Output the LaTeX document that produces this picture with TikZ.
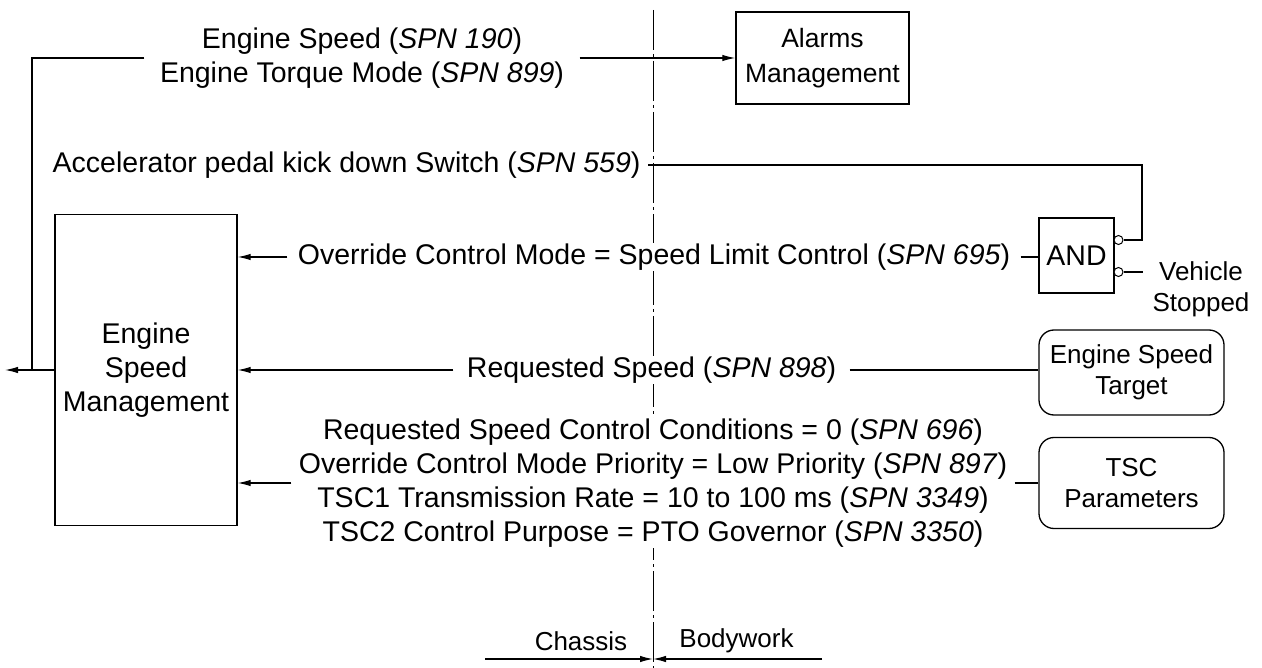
\documentclass[tikz,border=0pt]{standalone}
\usepackage{fontspec}
\setmainfont{Liberation Sans}
\usetikzlibrary{arrows.meta}
\newcommand\fntA{\fontsize{28.5}{34}\selectfont}
\newcommand\fntB{\fontsize{26}{31}\selectfont}
\begin{document}
\begin{tikzpicture}[x=1pt,y=-1pt,line width=1.2pt,
  lbl/.style={fill=white,align=center,inner xsep=12pt,inner ysep=1pt,font=\fntA},
  blk/.style={draw,align=center,inner sep=0pt,line width=1.3pt},
  rblk/.style={blk,rounded corners=15pt,font=\fntB},
  arr/.style={-{Latex[length=13pt,width=6.5pt]}},
  axisline/.style={line width=1pt,dash pattern=on 40pt off 4pt on 3pt off 4pt},
  bubble/.style={circle,draw,fill=white,inner sep=0pt,minimum size=9pt,line width=1pt}]
\useasboundingbox (0,0) rectangle (1262,668);

% chassis / bodywork boundary
\coordinate (axT) at (653,10);
\coordinate (axB) at (653,668);
\draw[axisline] (axT) -- (axB);

% blocks
\node[blk,font=\fntA,minimum width=182pt,minimum height=311pt] (esm) at (146,370)
  {Engine\\Speed\\Management};
\node[blk,font=\fontsize{26.5}{35}\selectfont,minimum width=173pt,minimum height=92pt] (alarms) at (822.5,58)
  {Alarms\\Management};
\node[blk,font=\fntA,minimum width=75pt,minimum height=75pt] (and) at (1076.5,255.5) {AND};
\node[bubble] (b1) at (1118.5,240) {};
\node[bubble] (b2) at (1118.5,272) {};
\node[rblk,minimum width=185pt,minimum height=85pt] (est) at (1131.5,372.5) {Engine Speed\\Target};
\node[rblk,minimum width=185pt,minimum height=91pt] (tsc) at (1131.5,483) {TSC\\Parameters};

% signal labels
\node[lbl,inner xsep=15pt] (lbl1) at (362,58)
  {Engine Speed (\textit{SPN 190})\\Engine Torque Mode (\textit{SPN 899})};
\node[lbl,inner xsep=7pt,anchor=east] (lbl2) at (648,165)
  {Accelerator pedal kick down Switch (\textit{SPN 559})};
\node[lbl,inner xsep=10pt] (lbl3) at (654,257)
  {Override Control Mode = Speed Limit Control (\textit{SPN 695})};
\node[lbl,inner xsep=13pt] (lbl4) at (651.5,370)
  {Requested Speed (\textit{SPN 898})};
\node[lbl,inner xsep=7pt] (lbl5) at (653,483)
  {Requested Speed Control Conditions = 0 (\textit{SPN 696})\\
   Override Control Mode Priority = Low Priority (\textit{SPN 897})\\
   TSC1 Transmission Rate = 10 to 100 ms (\textit{SPN 3349})\\
   TSC2 Control Purpose = PTO Governor (\textit{SPN 3350})};
\node[align=center,font=\fntB,inner sep=0pt] (vs) at (1201,289) {Vehicle\\Stopped};
\node[font=\fntB,inner sep=0pt,anchor=base] (chassis) at (581,650) {Chassis};
\node[font=\fntB,inner sep=0pt,anchor=base] (body) at (736.5,647) {Bodywork};

% helper points
\coordinate (outL) at (5,370);
\coordinate (jn) at (32,370);
\coordinate (k1) at (1142,240);
\coordinate (vsIn) at (1143,272);
\coordinate (cl) at (485,659);
\coordinate (cr) at (822,659);
\coordinate (cm) at (653,659);

% connectors
\draw[arr] (lbl1.east) -- (alarms.west);
\draw (lbl1.west) -| (jn);
\draw[arr] (esm.west) -- (outL);
\draw (lbl2.east) -| (k1) -- (b1.east);
\draw (b2.east) -- (vsIn);
\draw (lbl3.east) -- (lbl3.east -| and.west);
\draw[arr] (lbl3.west) -- (lbl3.west -| esm.east);
\draw (lbl4.east) -- (lbl4.east -| est.west);
\draw[arr] (lbl4.west) -- (lbl4.west -| esm.east);
\draw (lbl5.east) -- (lbl5.east -| tsc.west);
\draw[arr] (lbl5.west) -- (lbl5.west -| esm.east);
\draw[arr] (cl) -- (cm);
\draw[arr] (cr) -- (cm);
\end{tikzpicture}
\end{document}
